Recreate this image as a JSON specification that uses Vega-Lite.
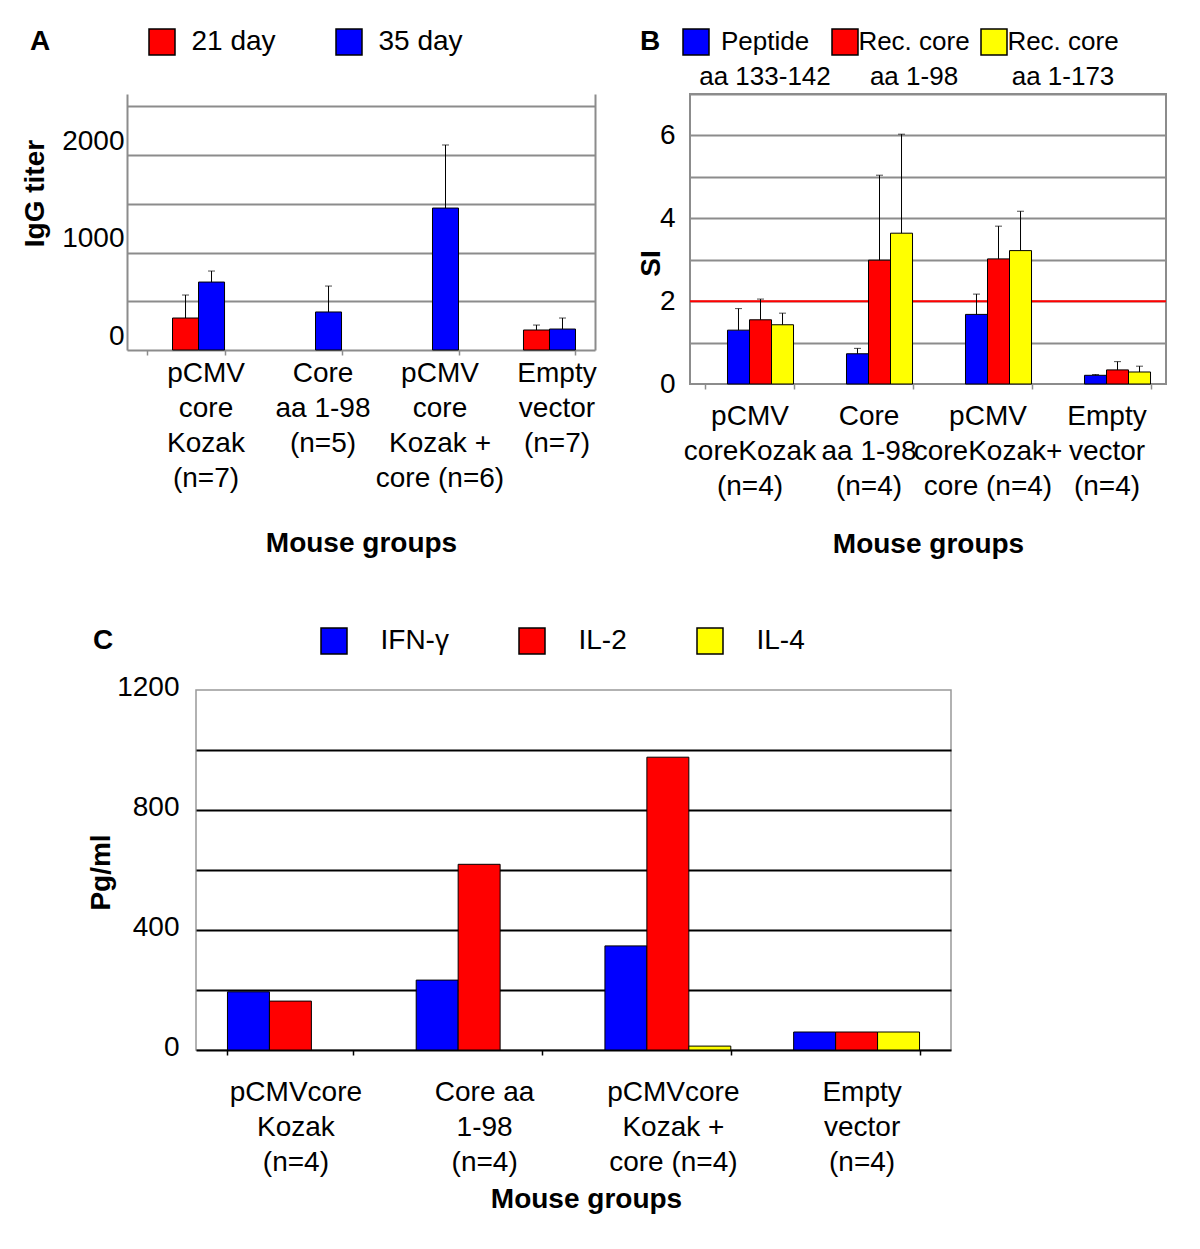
{
  "$schema": "https://vega.github.io/schema/vega-lite/v6.json",
  "autosize": {"type": "pad"},
  "padding": {"left": 20, "top": 27, "right": 0, "bottom": 0},
  "config": {
    "font": "Liberation Sans",
    "view": {"stroke": null},
    "axis": {"labelFont": "Liberation Sans", "titleFont": "Liberation Sans", "labelColor": "black", "titleColor": "black", "labelFontSize": 28, "titleFontSize": 28, "titleFontWeight": "bold"},
    "legend": {"labelFont": "Liberation Sans", "titleFont": "Liberation Sans", "labelColor": "black", "titleColor": "black"}
  },
  "spacing": 67,
  "resolve": {"scale": {"color": "independent", "x": "independent", "y": "independent", "xOffset": "independent"}, "legend": {"color": "independent"}},
  "vconcat": [
    {
      "spacing": 0,
      "align": "none",
      "resolve": {"scale": {"color": "independent", "x": "independent", "y": "independent", "xOffset": "independent"}, "legend": {"color": "independent"}},
      "hconcat": [
        {"width": 1, "height": 1, "data": {"values": []}, "mark": "point"},
        {
          "spacing": 39,
          "align": "none",
          "resolve": {"scale": {"color": "independent", "x": "independent", "y": "independent", "xOffset": "independent"}, "legend": {"color": "independent"}},
          "hconcat": [
            {
              "width": 468,
              "height": 256,
              "data": {"values": [
                {"group": "pCMV\ncore\nKozak\n(n=7)", "series": "21 day", "value": 328, "upper": 564},
                {"group": "pCMV\ncore\nKozak\n(n=7)", "series": "35 day", "value": 697, "upper": 810},
                {"group": "Core\naa 1-98\n(n=5)", "series": "35 day", "value": 390, "upper": 656},
                {"group": "pCMV\ncore\nKozak +\ncore (n=6)", "series": "35 day", "value": 1456, "upper": 2103},
                {"group": "Empty\nvector\n(n=7)", "series": "21 day", "value": 205, "upper": 256},
                {"group": "Empty\nvector\n(n=7)", "series": "35 day", "value": 215, "upper": 328}
              ]},
              "encoding": {
                "x": {"field": "group", "type": "nominal", "sort": null,
                  "scale": {"paddingInner": 0.333, "paddingOuter": 0.1667},
                  "axis": {"title": "Mouse groups", "labelExpr": "split(datum.label, '\\n')", "labelAngle": 0, "labelLineHeight": 35, "labelPadding": 4, "labelOffset": 20, "labelLimit": 0, "labelOverlap": false, "tickBand": "extent", "ticks": true, "tickSize": 5, "tickColor": "#8c8c8c", "tickWidth": 1.5, "domainColor": "#8c8c8c", "domainWidth": 2, "titleY": 193, "titleBaseline": "middle", "grid": false}},
                "xOffset": {"field": "series", "type": "nominal", "scale": {"domain": ["none", "21 day", "35 day"], "paddingInner": 0, "paddingOuter": 0}}
              },
              "layer": [
                {
                  "mark": {"type": "bar", "stroke": "black", "strokeWidth": 1},
                  "encoding": {
                    "y": {"field": "value", "type": "quantitative", "scale": {"domain": [0, 2626], "nice": false},
                      "axis": {"title": "IgG titer", "values": [0, 500, 1000, 1500, 2000, 2500], "format": "d", "labelExpr": "datum.value == 0 || datum.value == 1000 || datum.value == 2000 ? datum.label : ''", "ticks": false, "labelPadding": 3, "labelOffset": -14, "grid": true, "gridColor": "#8c8c8c", "gridWidth": 2, "gridOpacity": {"condition": {"test": "datum.value == 0", "value": 0}, "value": 1}, "domain": true, "domainColor": "#8c8c8c", "domainWidth": 2, "titleX": -92, "titleY": 99, "titleAngle": 270, "titleAlign": "center", "titleBaseline": "middle"}},
                    "color": {"field": "series", "type": "nominal", "scale": {"domain": ["21 day", "35 day"], "range": ["#FF0000", "#0000FF"]},
                      "legend": {"orient": "none", "legendX": -97, "legendY": -66, "direction": "horizontal", "title": "A", "titleOrient": "left", "titleAnchor": "start", "titleBaseline": "top", "titleFontSize": 28, "titleFontWeight": "bold", "titlePadding": 97, "labelFontSize": 28, "symbolType": "square", "symbolSize": 676, "symbolStrokeColor": "black", "symbolStrokeWidth": 1.5, "symbolOpacity": 1, "labelOffset": 15.5, "columnPadding": 57, "padding": 0}}
                  }
                },
                {
                  "mark": {"type": "rule", "color": "black", "strokeWidth": 1},
                  "encoding": {
                    "y": {"field": "value", "type": "quantitative", "axis": {"orient": "right", "title": null, "labels": false, "ticks": false, "grid": false, "domain": true, "domainColor": "#8c8c8c", "domainWidth": 2}},
                    "y2": {"field": "upper"}
                  }
                },
                {
                  "mark": {"type": "tick", "color": "black", "thickness": 1, "size": 7},
                  "encoding": {"y": {"field": "upper", "type": "quantitative", "axis": null}}
                }
              ],
              "resolve": {"axis": {"y": "independent"}}
            },
            {
              "width": 476,
              "height": 290,
              "view": {"stroke": "#8c8c8c", "strokeWidth": 2},
              "layer": [
                {
                  "data": {"values": [{"threshold": 2}]},
                  "mark": {"type": "rule", "color": "#FF0000", "strokeWidth": 2},
                  "encoding": {"y": {"field": "threshold", "type": "quantitative", "scale": {"domain": [0, 7], "nice": false},
                    "axis": {"title": "SI", "values": [0, 1, 2, 3, 4, 5, 6, 7], "labelExpr": "datum.value % 2 == 0 ? datum.label : ''", "ticks": false, "labelPadding": 15, "grid": true, "gridColor": "#8c8c8c", "gridWidth": 2, "gridOpacity": {"condition": {"test": "datum.value == 0", "value": 0}, "value": 1}, "domain": false, "titleX": -39, "titleY": 169, "titleAngle": 270, "titleAlign": "center", "titleBaseline": "middle"}}}
                },
                {
                  "data": {"name": "si"},
                  "layer": [
                    {
                      "mark": {"type": "bar", "stroke": "black", "strokeWidth": 1},
                      "encoding": {
                        "x": {"field": "group", "type": "nominal", "sort": null,
                          "scale": {"paddingInner": 0.26, "paddingOuter": 0.13},
                          "axis": {"title": "Mouse groups", "labelExpr": "split(datum.label, '\\n')", "labelAngle": 0, "labelLineHeight": 35, "labelPadding": 13, "labelOffset": 0, "labelLimit": 0, "labelOverlap": false, "tickBand": "extent", "ticks": true, "tickSize": 5, "tickColor": "#8c8c8c", "tickWidth": 1.5, "domain": false, "titleY": 160, "titleBaseline": "middle", "grid": false}},
                        "xOffset": {"field": "series", "type": "nominal", "scale": {"domain": ["none", "Peptide aa 133-142", "Rec. core aa 1-98", "Rec. core aa 1-173"], "paddingInner": 0, "paddingOuter": 0}},
                        "y": {"field": "value", "type": "quantitative"},
                        "color": {"field": "series", "type": "nominal", "scale": {"domain": ["Peptide aa 133-142", "Rec. core aa 1-98", "Rec. core aa 1-173"], "range": ["#0000FF", "#FF0000", "#FFFF00"]},
                          "legend": {"orient": "none", "legendX": -50, "legendY": -66, "direction": "horizontal", "title": "B", "titleOrient": "left", "titleAnchor": "start", "titleBaseline": "top", "titleFontSize": 28, "titleFontWeight": "bold", "titlePadding": 21, "labelFontSize": 26, "labelAlign": "center", "labelBaseline": "middle", "labelOffset": 55, "labelLimit": 0, "gridAlign": "all", "columnPadding": -7,
                            "labelExpr": "datum.label == 'Peptide aa 133-142' ? ['Peptide', 'aa 133-142'] : datum.label == 'Rec. core aa 1-98' ? ['Rec. core', 'aa 1-98'] : ['Rec. core', 'aa 1-173']",
                            "encode": {"labels": {"update": {"lineHeight": {"value": 35}}}},
                            "symbolType": "square", "symbolSize": 676, "symbolStrokeColor": "black", "symbolStrokeWidth": 1.5, "symbolOpacity": 1, "padding": 0}}
                      }
                    },
                    {
                      "mark": {"type": "rule", "color": "black", "strokeWidth": 1},
                      "encoding": {
                        "x": {"field": "group", "type": "nominal", "sort": null},
                        "xOffset": {"field": "series", "type": "nominal"},
                        "y": {"field": "value", "type": "quantitative"}, "y2": {"field": "upper"}}
                    },
                    {
                      "mark": {"type": "tick", "color": "black", "thickness": 1, "size": 7},
                      "encoding": {
                        "x": {"field": "group", "type": "nominal", "sort": null},
                        "xOffset": {"field": "series", "type": "nominal"},
                        "y": {"field": "upper", "type": "quantitative"}}
                    }
                  ]
                }
              ]
            }
          ]
        }
      ]
    },
    {
      "spacing": 0,
      "align": "none",
      "resolve": {"scale": {"color": "independent", "x": "independent", "y": "independent", "xOffset": "independent"}, "legend": {"color": "independent"}},
      "hconcat": [
        {"width": 66, "height": 1, "data": {"values": []}, "mark": "point"},
        {
          "width": 755,
          "height": 360,
          "view": {"stroke": "#999999", "strokeWidth": 1.5},
          "data": {"values": [
            {"group": "pCMVcore\nKozak\n(n=4)", "series": "IFN-γ", "value": 194},
            {"group": "pCMVcore\nKozak\n(n=4)", "series": "IL-2", "value": 163},
            {"group": "Core aa\n1-98\n(n=4)", "series": "IFN-γ", "value": 233},
            {"group": "Core aa\n1-98\n(n=4)", "series": "IL-2", "value": 619},
            {"group": "pCMVcore\nKozak +\ncore (n=4)", "series": "IFN-γ", "value": 347},
            {"group": "pCMVcore\nKozak +\ncore (n=4)", "series": "IL-2", "value": 976},
            {"group": "pCMVcore\nKozak +\ncore (n=4)", "series": "IL-4", "value": 13},
            {"group": "Empty\nvector\n(n=4)", "series": "IFN-γ", "value": 60},
            {"group": "Empty\nvector\n(n=4)", "series": "IL-2", "value": 60},
            {"group": "Empty\nvector\n(n=4)", "series": "IL-4", "value": 60}
          ]},
          "mark": {"type": "bar", "stroke": "black", "strokeWidth": 1},
          "encoding": {
            "x": {"field": "group", "type": "nominal", "sort": null,
              "scale": {"paddingInner": 0.333, "paddingOuter": 0.1667},
              "axis": {"title": "Mouse groups", "labelExpr": "split(datum.label, '\\n')", "labelAngle": 0, "labelLineHeight": 35, "labelPadding": 23, "labelOffset": 5, "labelLimit": 0, "labelOverlap": false, "tickBand": "extent", "ticks": true, "tickSize": 5, "tickColor": "black", "tickWidth": 1.5, "domain": true, "domainColor": "black", "domainWidth": 2, "titleY": 149, "titleX": 390, "titleBaseline": "middle", "grid": false}},
            "xOffset": {"field": "series", "type": "nominal", "scale": {"domain": ["IFN-γ", "IL-2", "IL-4"], "paddingInner": 0, "paddingOuter": 0}},
            "y": {"field": "value", "type": "quantitative", "scale": {"domain": [0, 1200], "nice": false},
              "axis": {"title": "Pg/ml", "values": [0, 200, 400, 600, 800, 1000, 1200], "format": "d", "labelExpr": "datum.value % 400 == 0 ? datum.label : ''", "ticks": false, "labelPadding": 17, "labelOffset": -3, "grid": true, "gridColor": "black", "gridWidth": 2, "gridOpacity": {"condition": {"test": "datum.value == 0 || datum.value == 1200", "value": 0}, "value": 1}, "domain": false, "titleX": -95, "titleY": 182, "titleAngle": 270, "titleAlign": "center", "titleBaseline": "middle"}},
            "color": {"field": "series", "type": "nominal", "scale": {"domain": ["IFN-γ", "IL-2", "IL-4"], "range": ["#0000FF", "#FF0000", "#FFFF00"]},
              "legend": {"orient": "none", "legendX": -103, "legendY": -63, "direction": "horizontal", "title": "C", "titleOrient": "left", "titleAnchor": "start", "titleBaseline": "top", "titleFontSize": 28, "titleFontWeight": "bold", "titlePadding": 206, "labelFontSize": 28, "symbolType": "square", "symbolSize": 676, "symbolStrokeColor": "black", "symbolStrokeWidth": 1.5, "symbolOpacity": 1, "labelOffset": 32.5, "columnPadding": 67, "gridAlign": "each", "padding": 0}}
          }
        }
      ]
    }
  ],
  "datasets": {
    "si": [
      {"group": "pCMV\ncoreKozak\n(n=4)", "series": "Peptide aa 133-142", "value": 1.30, "upper": 1.82},
      {"group": "pCMV\ncoreKozak\n(n=4)", "series": "Rec. core aa 1-98", "value": 1.55, "upper": 2.05},
      {"group": "pCMV\ncoreKozak\n(n=4)", "series": "Rec. core aa 1-173", "value": 1.43, "upper": 1.71},
      {"group": "Core\naa 1-98\n(n=4)", "series": "Peptide aa 133-142", "value": 0.73, "upper": 0.86},
      {"group": "Core\naa 1-98\n(n=4)", "series": "Rec. core aa 1-98", "value": 2.99, "upper": 5.04},
      {"group": "Core\naa 1-98\n(n=4)", "series": "Rec. core aa 1-173", "value": 3.64, "upper": 6.03},
      {"group": "pCMV\ncoreKozak+\ncore (n=4)", "series": "Peptide aa 133-142", "value": 1.68, "upper": 2.17},
      {"group": "pCMV\ncoreKozak+\ncore (n=4)", "series": "Rec. core aa 1-98", "value": 3.02, "upper": 3.81},
      {"group": "pCMV\ncoreKozak+\ncore (n=4)", "series": "Rec. core aa 1-173", "value": 3.22, "upper": 4.17},
      {"group": "Empty\nvector\n(n=4)", "series": "Peptide aa 133-142", "value": 0.21, "upper": 0.23},
      {"group": "Empty\nvector\n(n=4)", "series": "Rec. core aa 1-98", "value": 0.34, "upper": 0.54},
      {"group": "Empty\nvector\n(n=4)", "series": "Rec. core aa 1-173", "value": 0.29, "upper": 0.43}
    ]
  }
}
